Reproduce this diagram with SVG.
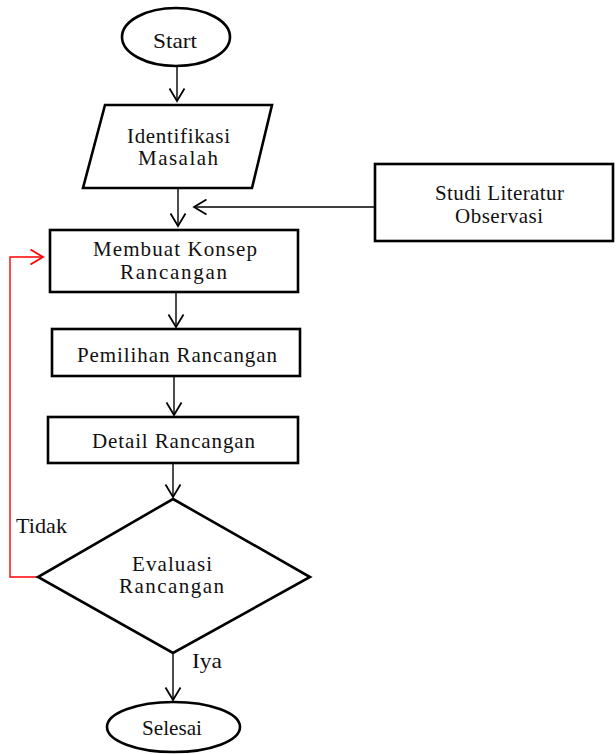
<svg xmlns="http://www.w3.org/2000/svg" width="616" height="754" viewBox="0 0 616 754">
<style>
.shape{fill:#fff;stroke:#000;stroke-width:2.6}
.t{font-family:"Liberation Serif","Times New Roman",serif;font-size:21px;fill:#111;text-anchor:middle}
.tl{font-family:"Liberation Serif","Times New Roman",serif;font-size:21px;fill:#111}
.c{fill:none;stroke:#000;stroke-width:1.4}
.r{fill:none;stroke:#f00;stroke-width:1.4}
</style>
<defs>
<marker id="ah" markerUnits="userSpaceOnUse" markerWidth="20" markerHeight="20" viewBox="-12 -8 14 16" refX="0" refY="0" orient="auto">
<path d="M-10,-6 L0,0 L-10,6" fill="none" stroke="#000" stroke-width="1.4"/>
</marker>
<marker id="ahr" markerUnits="userSpaceOnUse" markerWidth="20" markerHeight="20" viewBox="-12 -8 14 16" refX="0" refY="0" orient="auto">
<path d="M-10,-6 L0,0 L-10,6" fill="none" stroke="#f00" stroke-width="1.4"/>
</marker>
</defs>
<g id="connectors">
<line class="c" x1="177" y1="67" x2="177" y2="101" marker-end="url(#ah)"/>
<line class="c" x1="178" y1="189" x2="178" y2="226" marker-end="url(#ah)"/>
<line class="c" x1="375" y1="207" x2="194" y2="207" marker-end="url(#ah)"/>
<line class="c" x1="176" y1="293" x2="176" y2="327" marker-end="url(#ah)"/>
<line class="c" x1="174" y1="377" x2="174" y2="415" marker-end="url(#ah)"/>
<line class="c" x1="173" y1="464" x2="173" y2="497" marker-end="url(#ah)"/>
<line class="c" x1="173" y1="654" x2="173" y2="700" marker-end="url(#ah)"/>
<polyline class="r" points="38,577 10,577 10,257 43,257" marker-end="url(#ahr)"/>
<text class="tl" x="16" y="533" textLength="51" lengthAdjust="spacingAndGlyphs">Tidak</text>
<text class="tl" x="192" y="668" textLength="30" lengthAdjust="spacingAndGlyphs">Iya</text>
</g>
<g id="start">
<ellipse class="shape" cx="176" cy="37" rx="54" ry="29"/>
<text class="t" x="175" y="48" textLength="44" lengthAdjust="spacingAndGlyphs">Start</text>
</g>
<g id="identifikasi">
<polygon class="shape" points="105,105 272,105 252,188 83,188"/>
<text class="t" x="178.5" y="143" textLength="103" lengthAdjust="spacing">Identifikasi</text>
<text class="t" x="178" y="165" textLength="80" lengthAdjust="spacing">Masalah</text>
</g>
<g id="studi">
<rect class="shape" x="375" y="164" width="238" height="77"/>
<text class="t" x="499.5" y="200" textLength="129" lengthAdjust="spacing">Studi Literatur</text>
<text class="t" x="499" y="223" textLength="88" lengthAdjust="spacing">Observasi</text>
</g>
<g id="membuat">
<rect class="shape" x="50" y="230" width="248" height="62"/>
<text class="t" x="175" y="256" textLength="164" lengthAdjust="spacing">Membuat Konsep</text>
<text class="t" x="173.5" y="279" textLength="107" lengthAdjust="spacing">Rancangan</text>
</g>
<g id="pemilihan">
<rect class="shape" x="52" y="329" width="248" height="47"/>
<text class="t" x="177" y="362" textLength="200" lengthAdjust="spacing">Pemilihan Rancangan</text>
</g>
<g id="detail">
<rect class="shape" x="48" y="417" width="250" height="46"/>
<text class="t" x="173.5" y="448" textLength="163" lengthAdjust="spacing">Detail Rancangan</text>
</g>
<g id="evaluasi">
<polygon class="shape" points="173,499 310,577 173,653 38,577"/>
<text class="t" x="172" y="571" textLength="80" lengthAdjust="spacing">Evaluasi</text>
<text class="t" x="171.5" y="593" textLength="105" lengthAdjust="spacing">Rancangan</text>
</g>
<g id="selesai">
<ellipse class="shape" cx="173.5" cy="727" rx="66.5" ry="25"/>
<text class="t" x="172" y="735" textLength="60" lengthAdjust="spacingAndGlyphs">Selesai</text>
</g>
</svg>
